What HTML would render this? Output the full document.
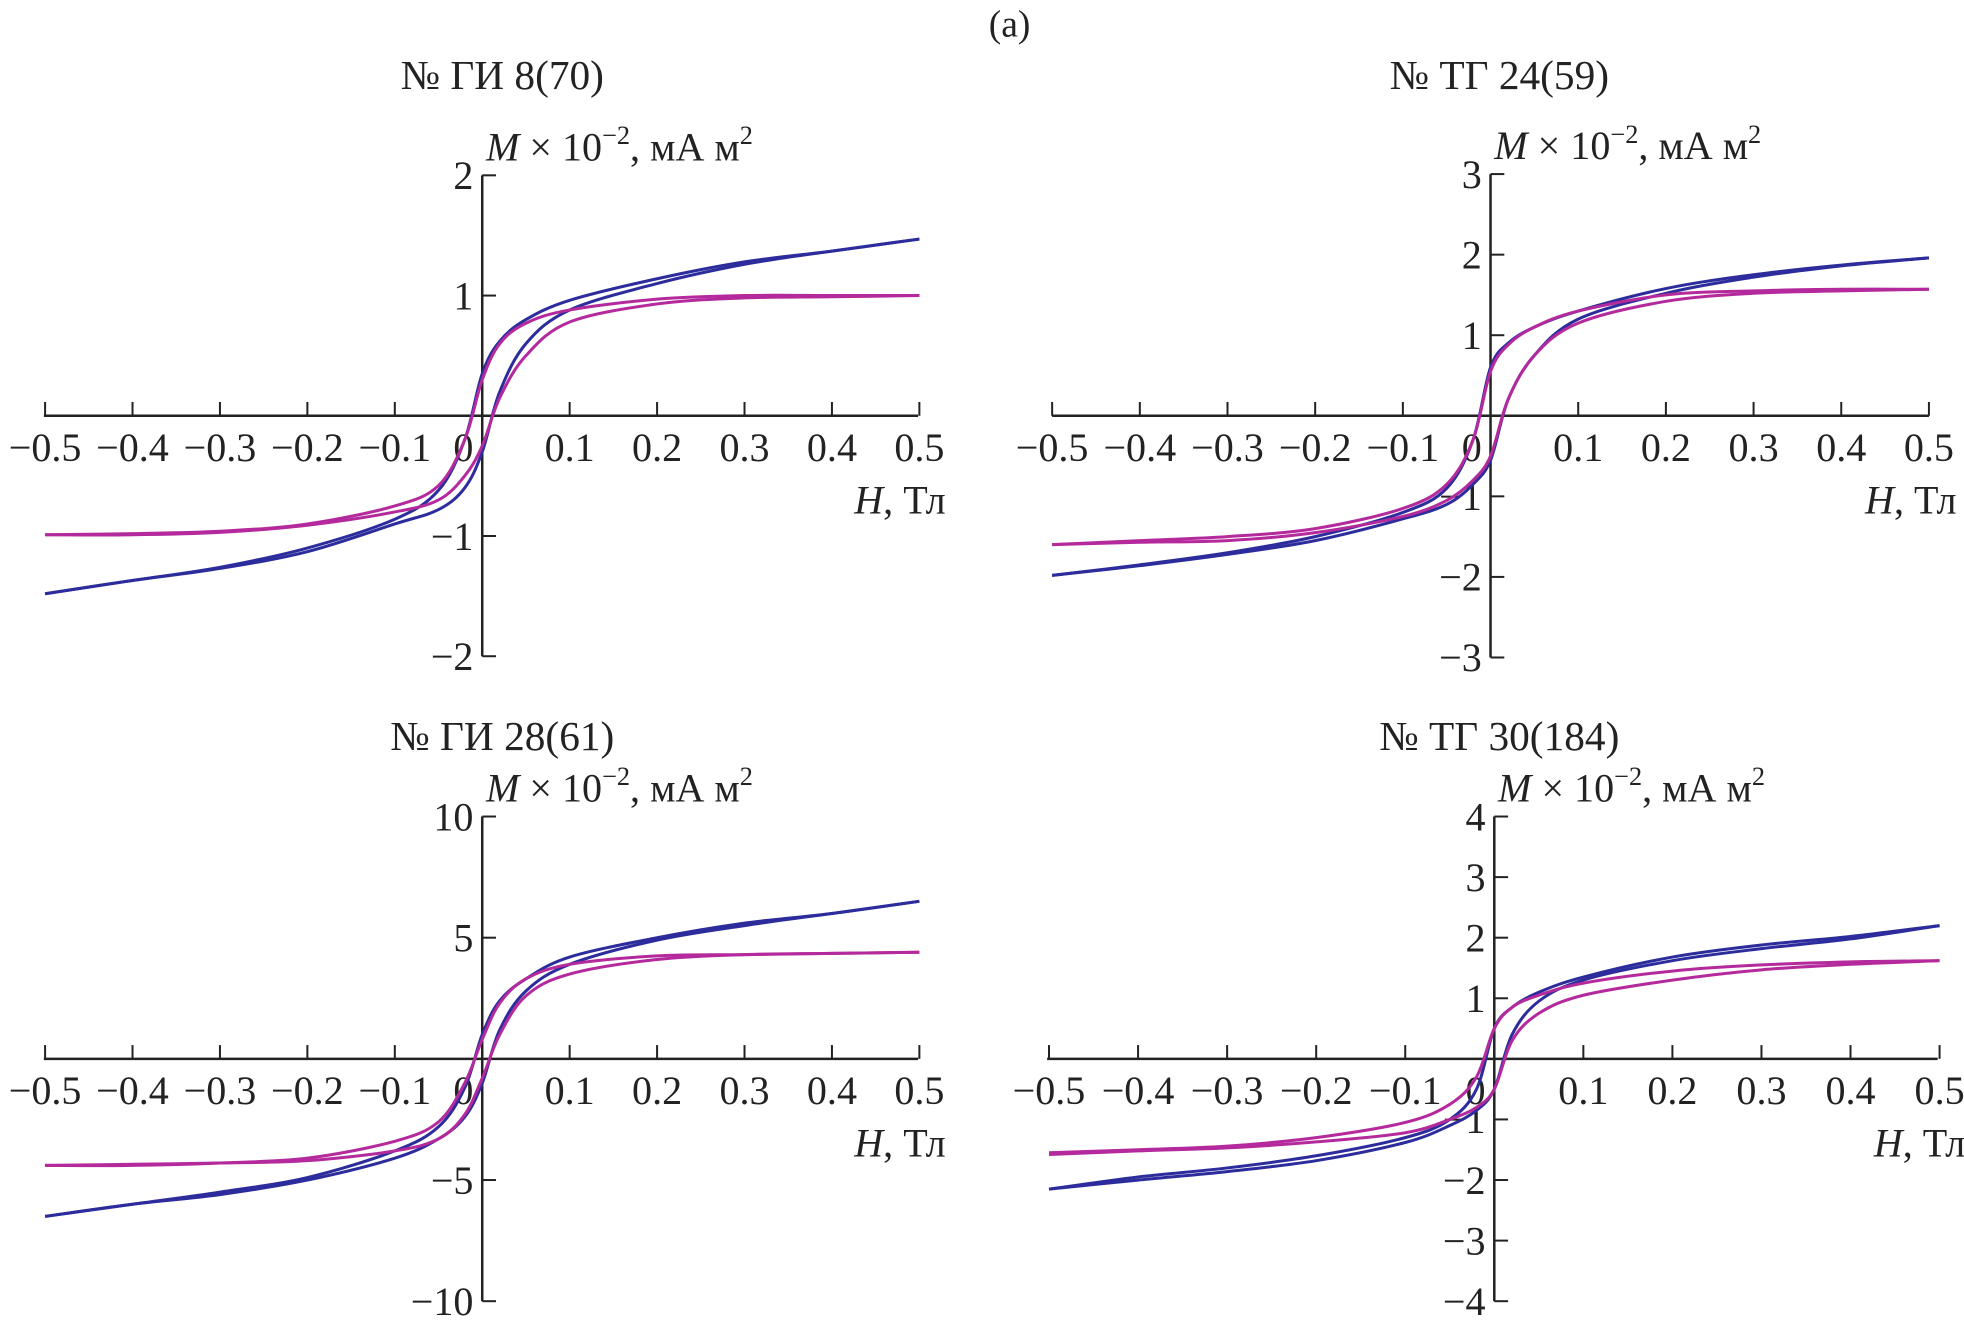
<!DOCTYPE html>
<html><head><meta charset="utf-8"><style>
html,body{margin:0;padding:0;background:#fff;}
svg{display:block;}
text{font-family:"Liberation Serif","DejaVu Serif",serif;fill:#222;}
</style></head><body>
<svg id="fig" width="1964" height="1335" viewBox="0 0 1568 1066" preserveAspectRatio="none" xmlns="http://www.w3.org/2000/svg">
<text x="806" y="29" font-size="30" text-anchor="middle">(a)</text>
</svg>
<script>
// Shared field values (T)
const fieldH = [-0.5,-0.4,-0.3,-0.2,-0.1,-0.05,-0.02,0,0.02,0.05,0.1,0.2,0.3,0.4,0.5];
const xTicks = [-0.5,-0.4,-0.3,-0.2,-0.1,0,0.1,0.2,0.3,0.4,0.5];
const xTickLabels = ["−0.5","−0.4","−0.3","−0.2","−0.1","0","0.1","0.2","0.3","0.4","0.5"];
// Panel 1: ГИ 8(70)
const p1Ticks = [-2,-1,1,2];
const p1BlueUp = [-1.48,-1.37,-1.26,-1.1,-0.86,-0.62,-0.2,0.35,0.62,0.8,0.96,1.14,1.28,1.37,1.47];
const p1BlueLo = [-1.48,-1.37,-1.27,-1.13,-0.9,-0.78,-0.6,-0.3,0.2,0.6,0.88,1.1,1.26,1.37,1.47];
const p1MagUp = [-0.99,-0.98,-0.96,-0.9,-0.75,-0.58,-0.2,0.3,0.6,0.77,0.88,0.97,1.0,1.0,1.0];
const p1MagLo = [-0.99,-0.99,-0.97,-0.91,-0.8,-0.7,-0.5,-0.25,0.15,0.5,0.78,0.93,0.98,0.99,1.0];
// Panel 2: ТГ 24(59)
const p2Ticks = [-3,-2,-1,1,2,3];
const p2BlueUp = [-1.98,-1.85,-1.7,-1.5,-1.2,-0.9,-0.3,0.6,0.9,1.1,1.3,1.58,1.75,1.87,1.96];
const p2BlueLo = [-1.98,-1.86,-1.72,-1.55,-1.28,-1.1,-0.85,-0.55,0.2,0.75,1.2,1.52,1.72,1.86,1.96];
const p2MagUp = [-1.6,-1.55,-1.5,-1.4,-1.15,-0.85,-0.3,0.55,0.88,1.1,1.3,1.5,1.55,1.57,1.57];
const p2MagLo = [-1.6,-1.57,-1.55,-1.45,-1.25,-1.05,-0.8,-0.5,0.2,0.75,1.15,1.42,1.52,1.55,1.57];
// Panel 3: ГИ 28(61)
const p3Ticks = [-10,-5,5,10];
const p3BlueUp = [-6.5,-6.0,-5.5,-4.9,-3.8,-2.8,-1.2,1.0,2.4,3.3,4.2,5.0,5.6,6.0,6.5];
const p3BlueLo = [-6.5,-6.0,-5.6,-5.0,-4.1,-3.3,-2.4,-1.0,1.2,2.8,3.9,4.9,5.5,6.0,6.5];
const p3MagUp = [-4.4,-4.4,-4.3,-4.1,-3.4,-2.6,-1.0,0.8,2.3,3.3,3.9,4.25,4.3,4.35,4.4];
const p3MagLo = [-4.4,-4.35,-4.3,-4.2,-3.8,-3.3,-2.3,-0.8,1.0,2.6,3.5,4.1,4.3,4.35,4.4];
// Panel 4: ТГ 30(184)
const p4Ticks = [-4,-3,-2,-1,1,2,3,4];
const p4BlueUp = [-2.15,-1.95,-1.8,-1.6,-1.3,-1.0,-0.5,0.5,0.85,1.1,1.35,1.68,1.88,2.02,2.2];
const p4BlueLo = [-2.15,-2.0,-1.86,-1.68,-1.38,-1.1,-0.85,-0.5,0.4,0.95,1.3,1.62,1.82,1.98,2.2];
const p4MagUp = [-1.55,-1.5,-1.44,-1.3,-1.05,-0.75,-0.3,0.5,0.85,1.05,1.25,1.45,1.55,1.6,1.62];
const p4MagLo = [-1.58,-1.52,-1.47,-1.37,-1.22,-1.0,-0.8,-0.5,0.3,0.75,1.05,1.3,1.47,1.56,1.62];

const NS = "http://www.w3.org/2000/svg";
const svg = document.getElementById('fig');
function mk(tag, attrs, parent){const e=document.createElementNS(NS,tag);for(const k in attrs)e.setAttribute(k,attrs[k]);(parent||svg).appendChild(e);return e;}

const panels = [
 {id:'p1', title:"№ ГИ 8(70)", x0:35, x1:733, ax:385, yTop:140, yBot:524, ymax:2, ticks:p1Ticks, tcx:401, tby:71, series:[p1BlueUp,p1BlueLo,p1MagUp,p1MagLo]},
 {id:'p2', title:"№ ТГ 24(59)", x0:840, x1:1540, ax:1190, yTop:139, yBot:525, ymax:3, ticks:p2Ticks, tcx:1197, tby:71, series:[p2BlueUp,p2BlueLo,p2MagUp,p2MagLo]},
 {id:'p3', title:"№ ГИ 28(61)", x0:35, x1:733, ax:385, yTop:652, yBot:1039, ymax:10, ticks:p3Ticks, tcx:401, tby:599, series:[p3BlueUp,p3BlueLo,p3MagUp,p3MagLo]},
 {id:'p4', title:"№ ТГ 30(184)", x0:836, x1:1547, ax:1193, yTop:652, yBot:1039, ymax:4, ticks:p4Ticks, tcx:1197, tby:599, series:[p4BlueUp,p4BlueLo,p4MagUp,p4MagLo]}
];
const colors = ['#2c2c9c','#2c2c9c','#b42a9c','#b42a9c'];
const snames = ['blue-descending','blue-ascending','magenta-descending','magenta-ascending'];

function smoothPath(pts){
  let d='M'+pts[0][0].toFixed(1)+','+pts[0][1].toFixed(1);
  for(let i=0;i<pts.length-1;i++){
    const p0=pts[i-1]||pts[i],p1=pts[i],p2=pts[i+1],p3=pts[i+2]||p2;
    const c1=[p1[0]+(p2[0]-p0[0])/6,p1[1]+(p2[1]-p0[1])/6];
    const c2=[p2[0]-(p3[0]-p1[0])/6,p2[1]-(p3[1]-p1[1])/6];
    d+=' C'+c1[0].toFixed(1)+','+c1[1].toFixed(1)+' '+c2[0].toFixed(1)+','+c2[1].toFixed(1)+' '+p2[0].toFixed(1)+','+p2[1].toFixed(1);
  }
  return d;
}

const FS = 32;
panels.forEach(p=>{
  const g = mk('g',{});
  
  
  const y0 = (p.yTop+p.yBot)/2;
  const X = h => p.ax + h*(p.x1-p.x0);
  const Y = m => y0 - m/p.ymax*(p.yBot-p.yTop)/2;
  const t = mk('text',{x:p.tcx,y:p.tby,'font-size':FS+1,'text-anchor':'middle'},g); t.textContent=p.title;
  
  
  const xa = mk('line',{x1:p.x0,y1:y0,x2:p.x1,y2:y0,stroke:'#222','stroke-width':2},g);
  
  
  const ya = mk('line',{x1:p.ax,y1:p.yTop,x2:p.ax,y2:p.yBot,stroke:'#222','stroke-width':2},g);
  
  
  xTicks.forEach((v,i)=>{
    if(v!==0) mk('line',{x1:X(v),y1:y0,x2:X(v),y2:y0-11,stroke:'#222','stroke-width':1.6},g);
    const tx = mk('text',{x:v===0?X(v)-15:X(v),y:y0+36,'font-size':FS,'text-anchor':'middle'},g);
    tx.textContent = xTickLabels[i];
    
    
  });
  p.ticks.forEach(v=>{
    mk('line',{x1:p.ax,y1:Y(v),x2:p.ax+11,y2:Y(v),stroke:'#222','stroke-width':1.6},g);
    const ty = mk('text',{x:p.ax-7,y:Y(v)+11,'font-size':FS,'text-anchor':'end'},g);
    ty.textContent = (v<0?'−':'')+Math.abs(v);
    
    
  });
  const yt = mk('text',{x:p.ax+3,y:p.yTop-12,'font-size':FS},g);
  yt.innerHTML = '<tspan font-style="italic">M</tspan> × 10<tspan font-size="21" dy="-13">−2</tspan><tspan dy="13">, мА м</tspan><tspan font-size="21" dy="-13">2</tspan>';
  
  
  const xt = mk('text',{x:p.x1+22,y:y0+78,'font-size':FS,'text-anchor':'end'},g);
  xt.innerHTML = '<tspan font-style="italic">H</tspan>, Тл';
  
  
  p.series.forEach((arr,si)=>{
    const pts = fieldH.map((h,i)=>[X(h),Y(arr[i])]);
    const path = mk('path',{d:smoothPath(pts),fill:'none',stroke:colors[si],'stroke-width':2.4},g);
    
    
  });
});
</script>
</body></html>
